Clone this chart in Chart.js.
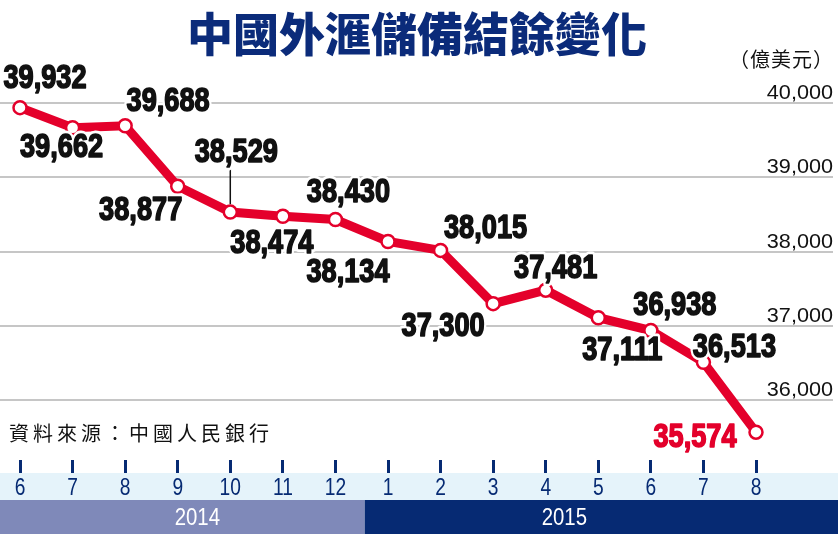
<!DOCTYPE html>
<html>
<head>
<meta charset="utf-8">
<script src="https://cdn.jsdelivr.net/npm/chart.js@4.4.1/dist/chart.umd.min.js"></script>
<style>
html,body{margin:0;padding:0;background:#fff;}
#wrap{position:relative;width:838px;height:534px;}
</style>
</head>
<body>
<div id="wrap"><canvas id="reserveChart" width="838" height="534"></canvas></div>
<script>
/* ===== DATA ===== */
const months = ["6","7","8","9","10","11","12","1","2","3","4","5","6","7","8"];
const reserves = [39932,39662,39688,38877,38529,38474,38430,38134,38015,37300,37481,37111,36938,36513,35574];
const yTicks = [36000,37000,38000,39000,40000];
const years = ["2014","2015"];
const yearStartIndex = [0,7];

const titleText = "中國外滙儲備結餘變化";
const unitText = "（億美元）";
const sourceText = "資料來源：中國人民銀行";

// label placement relative to point (dx, dy) — layout only
const labelOffsets = [
[25,-29],[-11,20],[43,-24],[-37,24],[6,-59],[-11,27],[13,-27],[-40,31],
[45,-22],[-50,23],[10,-22],[24,33],[24,-25],[31,-15],[-61,5]
];

const RED = "#e4002b";
const NAVY = "#062a73";
const SANS = "'Liberation Sans',Arial,sans-serif";
const CJK = "'Noto Sans CJK TC','Noto Sans CJK SC',sans-serif";

// condensed text: squeeze horizontally
function narrowText(ctx,txt,x,y,sx,stroke){
ctx.save();
ctx.translate(x,y);
ctx.scale(sx,1);
if(stroke) ctx.strokeText(txt,0,0);
ctx.fillText(txt,0,0);
ctx.restore();
}

/* ===== BACKGROUND: grid, bands, texts ===== */
const backdrop = {
id:"backdrop",
beforeDraw(chart){
const ctx = chart.ctx;
const x = chart.scales.x;
ctx.save();
const bandTop = 473, yearTop = 500;
ctx.fillStyle = "#e5f3fa";
ctx.fillRect(0,bandTop,838,yearTop-bandTop);
const split = (x.getPixelForValue(yearStartIndex[1]-1)+x.getPixelForValue(yearStartIndex[1]))/2 + 3;
ctx.fillStyle = "#7f89b9";
ctx.fillRect(0,yearTop,split,534-yearTop);
ctx.fillStyle = NAVY;
ctx.fillRect(split,yearTop,838-split,534-yearTop);
ctx.fillStyle = "#fff";
ctx.font = "24px "+SANS;
ctx.textAlign = "center";
ctx.textBaseline = "middle";
narrowText(ctx,years[0],split/2+15,518,0.85);
narrowText(ctx,years[1],split+(838-split)/2-37,518,0.85);

// month labels under the tick marks
ctx.fillStyle = NAVY;
ctx.font = "24px "+SANS;
months.forEach((m,i)=>{
narrowText(ctx,m,x.getPixelForTick(i),488,0.8);
});
ctx.restore();
},
beforeDatasetsDraw(chart){
const ctx = chart.ctx;
const y = chart.scales.y;
ctx.save();

// horizontal grid + right-side value labels
yTicks.forEach(v=>{
const py = Math.round(y.getPixelForValue(v));
ctx.strokeStyle = "#c6c6c6";
ctx.lineWidth = 2;
ctx.beginPath();
ctx.moveTo(0,py);
ctx.lineTo(833,py);
ctx.stroke();
ctx.fillStyle = "#111";
ctx.font = "21px "+SANS;
ctx.textAlign = "right";
ctx.textBaseline = "alphabetic";
narrowText(ctx,v.toLocaleString("en-US"),833,py-4,1.03);
});

// title, unit, source
ctx.fillStyle = "#0b2b7a";
ctx.font = "900 46px "+CJK;
ctx.textAlign = "center";
ctx.textBaseline = "middle";
ctx.fillText(titleText,417,34);

ctx.fillStyle = "#111";
ctx.font = "20px "+CJK;
ctx.textAlign = "right";
ctx.letterSpacing = "1px";
ctx.fillText(unitText,834,59);

ctx.font = "20px "+CJK;
ctx.textAlign = "left";
ctx.letterSpacing = "4px";
ctx.fillText(sourceText,9,433);
ctx.letterSpacing = "0px";

ctx.restore();
}
};

/* ===== VALUE LABELS ===== */
const valueLabels = {
id:"valueLabels",
afterDatasetsDraw(chart){
const ctx = chart.ctx;
const meta = chart.getDatasetMeta(0);
ctx.save();
// leader line for 38,529
const p4 = meta.data[4];
ctx.strokeStyle = "#111";
ctx.lineWidth = 1.5;
ctx.beginPath();
ctx.moveTo(p4.x,p4.y-8);
ctx.lineTo(p4.x,p4.y-47);
ctx.stroke();

ctx.font = "bold 34px "+SANS;
ctx.textAlign = "center";
ctx.textBaseline = "middle";
ctx.lineJoin = "round";
meta.data.forEach((pt,i)=>{
const tx = pt.x+labelOffsets[i][0];
const ty = pt.y+labelOffsets[i][1];
const txt = reserves[i].toLocaleString("en-US");
ctx.strokeStyle = "#fff";
ctx.lineWidth = 7;
narrowText(ctx,txt,tx,ty,0.8,true);
const col = i===reserves.length-1 ? RED : "#111";
ctx.fillStyle = col;
ctx.strokeStyle = col;
ctx.lineWidth = 1.6;
narrowText(ctx,txt,tx,ty,0.8,true);
});
ctx.restore();
}
};

/* ===== CHART ===== */
new Chart(document.getElementById("reserveChart"),{
type:"line",
data:{
labels:months,
datasets:[{
data:reserves,
borderColor:RED,
borderWidth:9,
tension:0,
pointRadius:6.5,
pointBorderWidth:2.5,
pointBackgroundColor:"#fff",
pointBorderColor:RED,
clip:false
}]
},
options:{
responsive:false,
animation:false,
layout:{padding:{left:20,right:82,top:43,bottom:0}},
plugins:{legend:{display:false},tooltip:{enabled:false}},
scales:{
y:{
display:false,
min:35200,
max:40800
},
x:{
display:true,
offset:false,
afterFit(scale){ scale.height = 74; },
border:{display:false},
grid:{
drawOnChartArea:false,
drawTicks:true,
tickLength:13,
tickWidth:3,
tickColor:NAVY
},
ticks:{
display:false,
autoSkip:false
}
}
}
},
plugins:[backdrop,valueLabels]
});
</script>
</body>
</html>
